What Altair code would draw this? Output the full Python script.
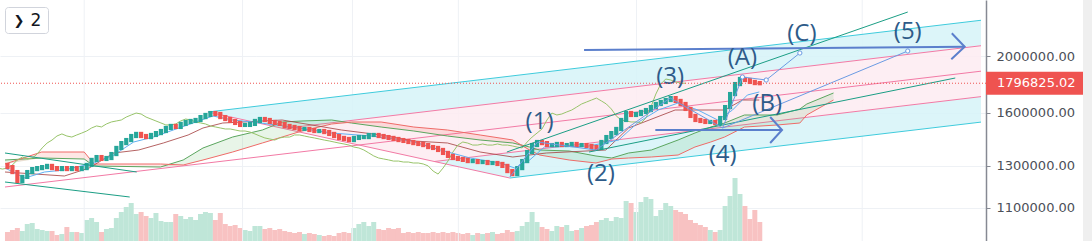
import altair as alt
import pandas as pd
import numpy as np

# ---------------- data (prices in thousands) ----------------
close_k = [
    1292, 1267, 1223, 1243, 1267, 1282, 1287, 1292, 1298, 1287,
    1282, 1287, 1282, 1287, 1282, 1287, 1303, 1329, 1344, 1334,
    1339, 1360, 1393, 1420, 1437, 1460, 1472, 1460, 1454, 1466,
    1477, 1489, 1507, 1519, 1513, 1531, 1543, 1549, 1555, 1573,
    1586, 1598, 1592, 1573, 1561, 1549, 1537, 1525, 1525, 1531,
    1549, 1561, 1555, 1543, 1537, 1531, 1519, 1513, 1507, 1501,
    1501, 1495, 1489, 1489, 1483, 1472, 1460, 1449, 1443, 1437,
    1449, 1454, 1454, 1466, 1466, 1460, 1454, 1449, 1443, 1437,
    1432, 1426, 1420, 1415, 1409, 1398, 1393, 1382, 1366, 1350,
    1339, 1334, 1329, 1323, 1323, 1318, 1318, 1313, 1313, 1308,
    1298, 1272, 1257, 1287, 1323, 1371, 1409, 1426, 1420, 1409,
    1409, 1415, 1409, 1409, 1415, 1409, 1409, 1404, 1398, 1393,
    1426, 1454, 1477, 1501, 1555, 1598, 1586, 1592, 1605, 1617,
    1636, 1656, 1669, 1682, 1695, 1676, 1656, 1624, 1580, 1555,
    1549, 1543, 1543, 1537, 1567, 1636, 1722, 1791, 1827, 1820,
    1806, 1798, 1796.82502,
]
first_open_k = 1303

volume = [
    9, 11, 13, 10, 17, 18, 12, 11, 10, 10,
    6, 7, 14, 9, 9, 8, 21, 23, 19, 9,
    12, 13, 23, 29, 34, 38, 27, 29, 25, 23,
    28, 20, 19, 19, 27, 25, 22, 24, 21, 27,
    29, 28, 21, 28, 17, 15, 16, 13, 11, 10,
    15, 15, 12, 13, 11, 12, 10, 9, 8, 9,
    7, 8, 7, 6, 5, 6, 5, 8, 9, 8,
    13, 17, 19, 15, 19, 12, 11, 13, 12, 13,
    8, 9, 8, 9, 8, 8, 9, 8, 9, 8,
    9, 8, 7, 8, 6, 8, 7, 8, 9, 7,
    8, 11, 9, 10, 15, 19, 29, 19, 14, 12,
    10, 15, 14, 16, 10, 11, 13, 15, 16, 19,
    21, 23, 20, 24, 23, 40, 38, 29, 39, 44,
    42, 25, 31, 38, 35, 31, 29, 27, 21, 18,
    16, 14, 11, 9, 11, 35, 45, 63, 47, 35,
    22, 31, 19,
]

# Ichimoku cloud (leading spans, already displaced forward)
cloud_t = [-0.5, 6.9, 15.5, 17.5, 30.9, 35.5, 39.5, 45.5, 51.5, 55.5, 59.5, 65.5,
           69.5, 75.5, 82.1, 88.9, 95.5, 102.1, 105.5, 107.5, 113.5, 118.9, 122.1,
           125.5, 130.1, 135.5, 138.9, 142.1, 144.9, 148.9, 155.5, 160.1, 161.5, 166.9]
span_a_k = [1328.5, 1339.0, 1333.7, 1297.5, 1292.4, 1328.5, 1392.7, 1454.3, 1494.9,
            1542.7, 1548.8, 1554.9, 1536.6, 1512.6, 1489.0, 1460.0, 1437.3, 1420.5,
            1398.2, 1381.8, 1376.4, 1349.6, 1339.0, 1365.6, 1381.8, 1437.3, 1477.4,
            1512.6, 1536.6, 1585.8, 1585.8, 1623.6, 1655.8, 1729.2]
span_b_k = [1307.8, 1371.0, 1371.0, 1307.8, 1307.8, 1302.7, 1328.5, 1371.0, 1420.5,
            1454.3, 1489.0, 1530.6, 1542.7, 1542.7, 1512.6, 1494.9, 1465.8, 1437.3,
            1381.8, 1354.9, 1328.5, 1313.0, 1333.7, 1339.0, 1344.3, 1354.9, 1398.2,
            1426.0, 1454.3, 1512.6, 1524.6, 1536.6, 1585.8, 1682.1]

kijun_t = [-0.5, 11.5, 16.5, 21.5, 26.5, 31.5, 36.5, 39.5, 43.5, 55.5, 67.5, 75.5,
           82.1, 88.9, 95.5, 102.1, 108.9, 120.9, 125.5, 134.9, 144.9, 148.5, 151.9]
kijun_k = [1267.3, 1247.5, 1287.4, 1365.6, 1381.8, 1420.5, 1465.8, 1506.7, 1536.6,
           1554.9, 1494.9, 1465.8, 1431.6, 1420.5, 1371.0, 1344.3, 1365.6, 1381.8,
           1506.7, 1617.3, 1617.3, 1682.1, 1682.1]

tenkan_t = [-0.5, 3.5, 7.5, 11.5, 17.5, 21.5, 25.5, 29.5, 33.5, 37.5, 41.5, 45.5,
            49.5, 57.5, 65.5, 73.5, 81.5, 87.5, 93.5, 99.5, 102.5, 105.5, 108.5,
            117.5, 123.5, 127.5, 131.5, 135.5, 139.5, 143.5, 146.5, 149.5, 151.9]
tenkan_k = [1287.4, 1237.7, 1267.3, 1277.3, 1313.0, 1354.9, 1426.0, 1454.3, 1494.9,
            1536.6, 1579.5, 1554.9, 1542.7, 1512.6, 1477.4, 1460.0, 1431.6, 1381.8,
            1339.0, 1313.0, 1287.4, 1328.5, 1398.2, 1403.7, 1437.3, 1542.7, 1617.3,
            1662.4, 1617.3, 1554.9, 1617.3, 1715.6, 1736.0]
lag_bars = 15

# Pitchfork anchor points (bar index, price k)
pf_t = [-0.5, 40.5, 101.5]
pf_k = [1194.7, 1604.6, 1237.7]

# Trend lines
trend_lines = {
    "tl1": ([100.9, 181.9], [1371.0, 2377.7]),
    "tl2": ([117.5, 191.5], [1371.0, 1834.2]),
    "tl3": ([-0.5, 26.1], [1365.6, 1267.3]),
    "tl4": ([-0.5, 24.7], [1218.4, 1148.6]),
}

# Elliott waves
wave_t = [101.5, 107.1, 118.9, 133.9, 144.5, 181.9]
wave_k = [1242.6, 1426.0, 1381.8, 1695.4, 1506.7, 2039.7]
abc_t = [144.5, 148.5, 153.3, 160.1]
abc_k = [1506.7, 1841.4, 1819.8, 2023.7]
label_text = ["(1)", "(2)", "(3)", "(4)", "(5)", "(A)", "(B)", "(C)"]
label_t = [107.5, 119.9, 133.9, 144.5, 181.9, 148.5, 153.5, 160.5]
label_k = [1542.7, 1257.4, 1841.4, 1354.9, 2198.0, 1984.3, 1655.8, 2180.8]

# Arrows
arrows = {
    "a1": ([116.5, 193.4], [2047.8, 2074.5]),
    "a1h": ([190.8, 193.4, 190.7], [2186.8, 2074.5, 1974.2]),
    "a2": ([130.9, 156.5], [1494.9, 1494.9]),
    "a2h": ([154.1, 156.5, 154.1], [1573.3, 1494.9, 1420.5]),
}

time_grid = [15.5, 47.5, 69.7, 91.1, 127.1, 172.7]
y_ticks = [1100000, 1300000, 1600000, 2000000]
last_price = 1796825.02

T0, T1 = -0.5, 196.7
YMIN, YMAX = 966100, 2492800

# ---------------- tables ----------------
n = min(len(close_k), len(volume))
closes = [c * 1000 for c in close_k[:n]]
opens = [first_open_k * 1000] + closes[:-1]
candles = pd.DataFrame({"t": list(range(n)), "open": opens, "close": closes, "vol": volume[:n]})
candles["dir"] = np.where(candles["close"] >= candles["open"], "up", "down")

lag = pd.DataFrame({"t": [i - lag_bars for i in range(n)], "p": closes})

cloud = pd.DataFrame({"t": cloud_t, "a": [v * 1000 for v in span_a_k], "b": [v * 1000 for v in span_b_k]})
cloud["lo"] = cloud[["a", "b"]].min(axis=1)

kijun = pd.DataFrame({"t": kijun_t, "p": [v * 1000 for v in kijun_k]})
tenkan = pd.DataFrame({"t": tenkan_t, "p": [v * 1000 for v in tenkan_k]})

# pitchfork geometry (in log price)
Lp = [np.log10(v * 1000) for v in pf_k]
tm = (pf_t[1] + pf_t[2]) / 2
Lm = (Lp[1] + Lp[2]) / 2
slope = (Lm - Lp[0]) / (tm - pf_t[0])


def pstart(f):
    return tm + f * (pf_t[1] - tm), Lm + f * (Lp[1] - Lm)


def pat(f, t):
    ts, ls = pstart(f)
    return ls + slope * (t - ts)


pf_rows = []
for name, f in [("u1", 1), ("u05", 0.5), ("d05", -0.5), ("d1", -1)]:
    ts, ls = pstart(f)
    pf_rows += [{"id": name, "t": ts, "p": 10 ** ls, "o": 0},
                {"id": name, "t": T1, "p": 10 ** pat(f, T1), "o": 1}]
pf_median = [{"id": "med", "t": pf_t[0], "p": 10 ** Lp[0], "o": 0},
             {"id": "med", "t": T1, "p": 10 ** pat(0, T1), "o": 1},
             {"id": "seg", "t": pf_t[1], "p": 10 ** Lp[1], "o": 0},
             {"id": "seg", "t": pf_t[2], "p": 10 ** Lp[2], "o": 1}]
pf_lines_cyan = pd.DataFrame([r for r in pf_rows if r["id"] in ("u1", "d1")])
pf_lines_pink = pd.DataFrame([r for r in pf_rows if r["id"] in ("u05", "d05")] + pf_median)


def band(f_top, f_bot):
    t_a, l_a = pstart(f_top)
    t_b, l_b = pstart(f_bot)
    return pd.DataFrame({
        "t": [t_a, t_b, T1],
        "top": [10 ** l_a, 10 ** pat(f_top, t_b), 10 ** pat(f_top, T1)],
        "bot": [10 ** l_a, 10 ** l_b, 10 ** pat(f_bot, T1)],
    })


band_up = band(1, 0.5)
band_mid = band(0.5, -0.5)
band_low = band(-0.5, -1)

trend_df = pd.DataFrame([{"id": k, "t": t, "p": p * 1000, "o": i}
                         for k, (ts, ps) in trend_lines.items()
                         for i, (t, p) in enumerate(zip(ts, ps))])
wave_df = pd.DataFrame([{"id": "w", "t": t, "p": p * 1000, "o": i} for i, (t, p) in enumerate(zip(wave_t, wave_k))] +
                       [{"id": "abc", "t": t, "p": p * 1000, "o": i} for i, (t, p) in enumerate(zip(abc_t, abc_k))])
circ_df = pd.DataFrame({"t": [wave_t[-1]] + abc_t[1:], "p": [wave_k[-1] * 1000] + [v * 1000 for v in abc_k[1:]]})
label_df = pd.DataFrame({"t": label_t, "p": [v * 1000 for v in label_k], "txt": label_text})
arrow_df = pd.DataFrame([{"id": k, "t": t, "p": p * 1000, "o": i}
                         for k, (ts, ps) in arrows.items()
                         for i, (t, p) in enumerate(zip(ts, ps))])
grid_df = pd.DataFrame({"t": time_grid})
price_df = pd.DataFrame({"p": [last_price], "txt": [f"{last_price:.2f}"]})
one = pd.DataFrame({"a": [0]})

# ---------------- encodings ----------------
xs = alt.Scale(domain=[T0, T1], nice=False, zero=False)
ys = alt.Scale(type="log", domain=[YMIN, YMAX], nice=False, zero=False)
price_axis = alt.Axis(orient="right", values=y_ticks, format=".2f", title=None,
                      grid=True, gridColor="#eef1f5", gridWidth=1,
                      domainColor="#868993", domainWidth=1.5,
                      tickColor="#868993", tickSize=4, tickWidth=1,
                      labelColor="#4c4f58", labelFont="DejaVu Sans", labelFontSize=13,
                      labelPadding=6)


def X(f="t"):
    return alt.X(f, type="quantitative", scale=xs, axis=None)


def Y(f="p"):
    return alt.Y(f, type="quantitative", scale=ys, axis=price_axis)


layers = []
layers.append(alt.Chart(grid_df).mark_rule(color="#eef1f5", strokeWidth=1).encode(x=X()))

BLUE_FILL = "#d6f3f8"
PINK_FILL = "#fdebf1"
for df, colr in [(band_up, BLUE_FILL), (band_mid, PINK_FILL), (band_low, BLUE_FILL)]:
    layers.append(alt.Chart(df).mark_area(color=colr, opacity=0.85, clip=True).encode(
        x=X(), y=Y("top"), y2="bot"))

layers.append(alt.Chart(pf_lines_cyan).mark_line(color="#3fcbdc", strokeWidth=1, clip=True).encode(
    x=X(), y=Y(), detail="id:N", order="o:Q"))
layers.append(alt.Chart(pf_lines_pink).mark_line(color="#f27aa5", strokeWidth=1, clip=True).encode(
    x=X(), y=Y(), detail="id:N", order="o:Q"))

# cloud
layers.append(alt.Chart(cloud).mark_area(color="#4caf50", opacity=0.13, clip=True).encode(
    x=X(), y=Y("a"), y2="lo"))
layers.append(alt.Chart(cloud).mark_area(color="#f44336", opacity=0.13, clip=True).encode(
    x=X(), y=Y("b"), y2="lo"))
layers.append(alt.Chart(cloud).mark_line(color="#5ba65f", strokeWidth=1, clip=True).encode(x=X(), y=Y("a")))
layers.append(alt.Chart(cloud).mark_line(color="#ef6b68", strokeWidth=1, clip=True).encode(x=X(), y=Y("b")))
layers.append(alt.Chart(kijun).mark_line(color="#a84848", strokeWidth=1, opacity=0.85, clip=True).encode(x=X(), y=Y()))
layers.append(alt.Chart(lag).mark_line(color="#98c46a", strokeWidth=1, clip=True).encode(x=X(), y=Y()))
layers.append(alt.Chart(tenkan).mark_line(color="#5fb0f2", strokeWidth=1, clip=True).encode(x=X(), y=Y()))

# candles
layers.append(alt.Chart(candles).mark_rule(strokeWidth=4.2, strokeCap="square", clip=True).encode(
    x=X(), y=Y("open"), y2="close",
    color=alt.Color("dir:N", scale=alt.Scale(domain=["up", "down"], range=["#26a69a", "#ef5350"]), legend=None)))

# drawings
layers.append(alt.Chart(trend_df).mark_line(color="#1b9e85", strokeWidth=1, clip=True).encode(
    x=X(), y=Y(), detail="id:N", order="o:Q"))
layers.append(alt.Chart(wave_df).mark_line(color="#6b9be3", strokeWidth=1, clip=True).encode(
    x=X(), y=Y(), detail="id:N", order="o:Q"))
layers.append(alt.Chart(circ_df).mark_point(shape="circle", size=18, filled=True, fill="white",
                                            stroke="#6b9be3", strokeWidth=1, opacity=1).encode(x=X(), y=Y()))
layers.append(alt.Chart(arrow_df).mark_line(color="#5b7fcc", strokeWidth=2, clip=True).encode(
    x=X(), y=Y(), detail="id:N", order="o:Q"))
layers.append(alt.Chart(label_df).mark_text(font="Open Sans", fontSize=24, color="#2e5b89",
                                            align="center", baseline="middle").encode(
    x=X(), y=Y(), text="txt:N"))

# last price
layers.append(alt.Chart(price_df).mark_rule(color="#ef5350", strokeWidth=1, strokeDash=[1, 2]).encode(y=Y()))
layers.append(alt.Chart(price_df).mark_rule(color="#ef5350", strokeWidth=23, clip=False).encode(
    x=alt.value(986), x2=alt.value(1083), y=Y()))
layers.append(alt.Chart(price_df).mark_text(color="white", font="DejaVu Sans", fontSize=13,
                                            align="left", baseline="middle", clip=False).encode(
    x=alt.value(997), y=Y(), text="txt:N"))

# decorations
layers.append(alt.Chart(one).mark_rect(color="#efefef", clip=False).encode(
    x=alt.value(1083), x2=alt.value(1092), y=alt.value(0), y2=alt.value(241)))
layers.append(alt.Chart(one).mark_rect(fill="white", stroke="#d1d4dc", strokeWidth=1, cornerRadius=3).encode(
    x=alt.value(5.5), x2=alt.value(48.5), y=alt.value(7.5), y2=alt.value(33.5)))
layers.append(alt.Chart(one).mark_text(text="❯", font="DejaVu Sans", fontSize=13, color="#131722",
                                       align="center", baseline="middle").encode(
    x=alt.value(19), y=alt.value(20.5)))
layers.append(alt.Chart(one).mark_text(text="2", font="DejaVu Sans", fontSize=17, color="#131722",
                                       align="center", baseline="middle").encode(
    x=alt.value(36), y=alt.value(21)))

price_group = alt.layer(*layers)

vol_layer = alt.Chart(candles).mark_bar(width=5).encode(
    x=X(),
    y=alt.Y("vol:Q", scale=alt.Scale(domain=[0, 241], nice=False), axis=None),
    color=alt.Color("dir:N", scale=alt.Scale(domain=["up", "down"], range=["#bfe6d8", "#f8c2c2"]), legend=None),
)

chart = alt.layer(vol_layer, price_group).resolve_scale(y="independent", color="independent").properties(
    width=986, height=241,
    autosize=alt.AutoSizeParams(type="none"),
    padding={"left": 0, "top": 0, "right": 106, "bottom": 0},
    background="white",
).configure_view(stroke=None)

chart.save("out.html", embed_options={"renderer": "svg", "actions": False})
